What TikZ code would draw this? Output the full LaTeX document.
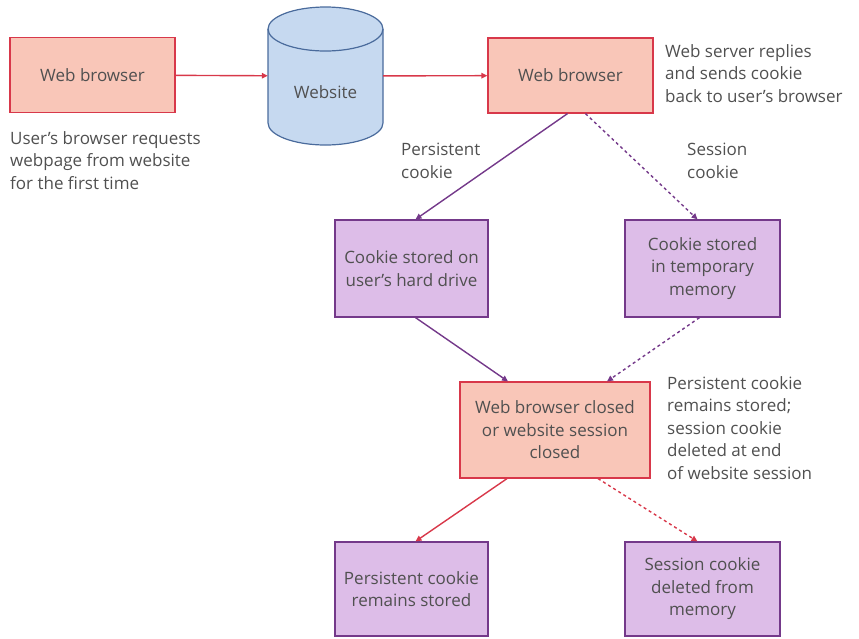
\documentclass[tikz,border=0pt]{standalone}
\usepackage{fontspec}
\setmainfont{Open Sans}
\usetikzlibrary{arrows.meta}
\definecolor{boxred}{HTML}{F9C6B8}
\definecolor{edgered}{HTML}{D8384A}
\definecolor{boxpurple}{HTML}{DDBDE8}
\definecolor{edgepurple}{HTML}{74398A}
\definecolor{boxblue}{HTML}{C6D9F0}
\definecolor{edgeblue}{HTML}{4A6B9C}
\definecolor{txt}{HTML}{505050}
\begin{document}
\begin{tikzpicture}[x=1pt,y=-1pt,
  font=\fontsize{17}{22.5}\selectfont, text=txt,
  redbox/.style={draw=edgered,fill=boxred,line width=1.2pt,align=center,inner sep=0pt},
  purplebox/.style={draw=edgepurple,fill=boxpurple,line width=1.2pt,align=center,inner sep=0pt,
    minimum height=97pt},
  note/.style={align=left,anchor=north west,inner sep=0pt},
  redarrow/.style={draw=edgered,line width=1.4pt,-{Triangle[length=6pt,width=5.5pt]}},
  purplearrow/.style={draw=edgepurple,line width=1.4pt,-{Triangle[length=6pt,width=5.5pt]}}]
 \useasboundingbox (0,0) rectangle (859,638);
 % top row
 \node[redbox,minimum width=165pt,minimum height=75pt] (wb1) at (92.5,75) {Web browser};
 \node[minimum width=115pt,minimum height=140pt,inner sep=0pt] (site) at (325.5,76) {};
 \draw[edgeblue,fill=boxblue,line width=1.2pt]
   (268,29) -- (268,123) arc[start angle=180,end angle=0,x radius=57.5,y radius=22]
   -- (383,29) arc[start angle=0,end angle=-180,x radius=57.5,y radius=22] -- cycle;
 \draw[edgeblue,line width=1.2pt] (268,29) arc[start angle=180,end angle=0,x radius=57.5,y radius=22];
 \node (sitelabel) at (325.5,92) {Website};
 \node[redbox,minimum width=165pt,minimum height=75pt] (wb2) at (570.5,75.5) {Web browser};
 \node[note] (reqtext) at (10,131) {User's browser requests\\webpage from website\\for the first time};
 \node[note] (replytext) at (665,44) {Web server replies\\and sends cookie\\back to user's browser};
 % storage
 \node[purplebox,minimum width=153pt] (disk) at (411.5,268.5) {Cookie stored on\\user's hard drive};
 \node[purplebox,minimum width=155pt] (temp) at (702.5,268.5) {Cookie stored\\in temporary\\memory};
 \node[note] (perslabel) at (401,143) {Persistent\\cookie};
 \node[note] (sesslabel) at (687,143) {Session\\cookie};
 % closing
 \node[redbox,minimum width=190pt,minimum height=96pt] (closed) at (555,430)
   {Web browser closed\\or website session\\closed};
 \node[note] (closetext) at (667,376) {Persistent cookie\\remains stored;\\session cookie\\deleted at end\\of website session};
 \node[purplebox,minimum width=153pt,minimum height=94pt] (kept) at (411.5,589) {Persistent cookie\\remains stored};
 \node[purplebox,minimum width=155pt,minimum height=94pt] (gone) at (702.5,589) {Session cookie\\deleted from\\memory};
 % arrows
 \draw[redarrow] (wb1) -- (site);
 \draw[redarrow] (site) -- (wb2);
 \draw[purplearrow] ([xshift=-3pt]wb2.south) -- ([xshift=4pt]disk.north);
 \draw[purplearrow,dashed] ([xshift=15pt]wb2.south) -- ([xshift=-5pt]temp.north);
 \draw[purplearrow] ([xshift=4pt]disk.south) -- ([xshift=-47pt]closed.north);
 \draw[purplearrow,dashed] ([xshift=-3pt]temp.south) -- ([xshift=52pt]closed.north);
 \draw[redarrow] ([xshift=-48pt]closed.south) -- ([xshift=4pt]kept.north);
 \draw[redarrow,dashed] ([xshift=43pt]closed.south) -- ([xshift=-5pt]gone.north);
\end{tikzpicture}
\end{document}
